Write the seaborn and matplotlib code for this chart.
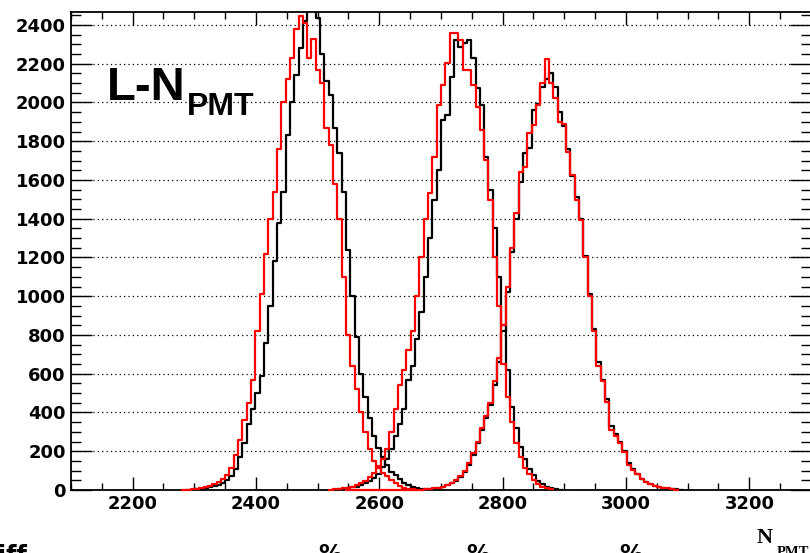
import numpy as np
import pandas as pd
import matplotlib
matplotlib.use("Agg")
import matplotlib.pyplot as plt
import seaborn as sns
from matplotlib.ticker import MultipleLocator

# ---------------- data (bin counts) ----------------
BIN_WIDTH = 7

black1_start = 2287
black1_counts = [1, 2, 4, 6, 9, 13, 20, 28, 38, 52, 72, 110, 170, 245, 340, 420, 500, 590,
                 760, 950, 1180, 1380, 1540, 1830, 2000, 2140, 2280, 2420, 2500, 2480, 2436,
                 2250, 2110, 2040, 1870, 1740, 1540, 1240, 1000, 790, 600, 480, 370, 280, 215,
                 170, 130, 95, 75, 55, 38, 25, 14, 8, 4, 2]

red1_start = 2280
red1_counts = [1, 2, 4, 7, 10, 15, 22, 30, 42, 55, 75, 115, 180, 260, 360, 450, 570, 820,
               1010, 1220, 1400, 1540, 1760, 2000, 2120, 2230, 2380, 2445, 2410, 2230, 2330,
               2170, 2100, 1870, 1780, 1580, 1400, 1100, 800, 640, 520, 400, 300, 210, 150,
               115, 90, 70, 50, 35, 22, 12, 6, 3]

black2_start = 2525
black2_counts = [2, 4, 6, 9, 13, 18, 26, 36, 48, 60, 80, 120, 160, 210, 280, 340, 420, 570,
                 640, 780, 920, 1100, 1300, 1497, 1651, 1910, 1935, 2131, 2322, 2286, 2307,
                 2322, 2230, 2075, 1987, 1720, 1548, 1350, 1100, 850, 620, 430, 320, 220, 160,
                 110, 75, 48, 30, 18, 10, 5, 2]

red2_start = 2518
red2_counts = [2, 3, 5, 8, 12, 17, 25, 35, 48, 65, 90, 125, 160, 210, 300, 420, 540, 620,
               720, 820, 1000, 1200, 1400, 1532, 1720, 1987, 2090, 2204, 2358, 2358, 2322,
               2168, 2168, 2090, 1977, 1858, 1703, 1497, 1200, 950, 650, 480, 350, 240, 170,
               115, 80, 52, 32, 18, 9, 4]

black3_start = 2665
black3_counts = [1, 3, 4, 7, 11, 17, 25, 34, 48, 68, 95, 130, 180, 240, 310, 370, 440, 540,
                 660, 820, 1020, 1230, 1400, 1590, 1739, 1765, 1961, 1990, 2080, 2120, 2152,
                 2080, 1950, 1880, 1760, 1620, 1510, 1400, 1210, 1010, 830, 660, 570, 470,
                 330, 290, 250, 200, 140, 108, 82, 58, 42, 32, 22, 16, 11, 7, 5, 3, 1]

red3_start = 2546
red3_counts = [0, 0, 0, 0, 0, 0, 0, 0, 0, 0, 0, 0, 0, 0, 0, 0, 0,
               2, 3, 5, 8, 12, 18, 26, 36, 50, 70, 100, 140, 190, 250, 320, 380, 450, 560,
               680, 850, 1050, 1250, 1430, 1641, 1667, 1842, 1884, 1987, 2100, 2224, 2100,
               2023, 1899, 1890, 1744, 1626, 1497, 1393, 1200, 1000, 820, 640, 560, 454, 310,
               280, 245, 196, 129, 103, 80, 55, 40, 30, 22, 15, 10, 8, 5, 2]

x_ticks = [2200, 2400, 2600, 2800, 3000, 3200]
y_ticks = [0, 200, 400, 600, 800, 1000, 1200, 1400, 1600, 1800, 2000, 2200, 2400]

# ---------------- figure ----------------
W, H = 810, 553
fig = plt.figure(figsize=(W / 100, H / 100), dpi=100)
ax = fig.add_axes([71 / W, 63 / H, (811 - 71) / W, (490 - 12) / H])


def draw(start, counts, color, z, clip):
    counts = np.asarray(counts, dtype=float)
    n = len(counts)
    centers = start + BIN_WIDTH * (np.arange(n) + 0.5)
    df = pd.DataFrame({"NPMT": centers, "n": counts})
    sns.histplot(data=df, x="NPMT", weights="n", binwidth=BIN_WIDTH,
                 binrange=(start, start + BIN_WIDTH * n), element="step",
                 fill=False, color=color, linewidth=1.6, ax=ax, zorder=z,
                 clip_on=clip)


for s, c in [(black1_start, black1_counts), (black2_start, black2_counts),
             (black3_start, black3_counts)]:
    draw(s, c, "black", 2.2, True)
for s, c in [(red1_start, red1_counts), (red2_start, red2_counts),
             (red3_start, red3_counts)]:
    draw(s, c, "#ff0000", 3.0, False)

ax.set_xlim(2100, 3300)
ax.set_ylim(0, 2467)
ax.set_xlabel("")
ax.set_ylabel("")
ax.set_xticks(x_ticks)
ax.set_yticks(y_ticks)
ax.xaxis.set_minor_locator(MultipleLocator(50))
ax.yaxis.set_minor_locator(MultipleLocator(50))

ax.yaxis.grid(True, which="major", linestyle=(0, (1, 2.5)), color="black",
              linewidth=0.9)
ax.xaxis.grid(False)
ax.set_axisbelow(True)

for sp in ax.spines.values():
    sp.set_linewidth(1.3)
    sp.set_color("black")

ax.tick_params(which="both", direction="in", top=True, right=True, width=1.0,
               color="black")
ax.tick_params(axis="x", which="major", length=9.4, pad=3.5)
ax.tick_params(axis="x", which="minor", length=5.0)
ax.tick_params(axis="y", which="major", length=15.0, pad=3.8)
ax.tick_params(axis="y", which="minor", length=7.5)

for lab in ax.get_xticklabels() + ax.get_yticklabels():
    lab.set_fontfamily("DejaVu Sans")
    lab.set_fontweight("bold")
    lab.set_fontsize(13)


def px(x, y):
    return x / W, 1 - y / H


# title-like label inside the frame
fig.text(*px(107, 100), "L-N", fontsize=34, fontweight="bold",
         family="Liberation Sans", va="baseline", ha="left")
fig.text(*px(187, 115), "PMT", fontsize=23, fontweight="bold",
         family="Liberation Sans", va="baseline", ha="left")

# x-axis title at the bottom right
fig.text(*px(757, 543), "N", fontsize=16, fontweight="bold",
         family="Liberation Serif", va="baseline", ha="left")
fig.text(*px(777, 556), "PMT", fontsize=10.5, fontweight="bold",
         family="Liberation Serif", va="baseline", ha="left")

# caption line cut off by the bottom edge of the picture
fig.text(*px(-2, 563), "iff", fontsize=17, fontweight="bold",
         family="DejaVu Sans", va="baseline", ha="left")
for xp in [318, 466, 619]:
    fig.text(*px(xp, 562), "%", fontsize=17, fontweight="bold",
             family="DejaVu Sans", va="baseline", ha="left")

fig.savefig("out.png", dpi=100)
